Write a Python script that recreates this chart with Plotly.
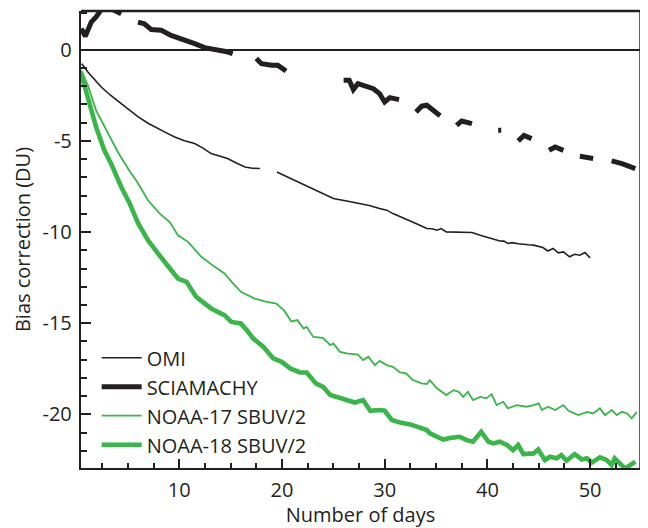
import plotly.graph_objects as go

# ---------------- data ----------------
omi_days = [0.5, 1.1, 2.4, 3.3, 4.35, 5.2, 6.0, 7.0, 7.9, 8.7, 9.55, 10.5, 11.5, 12.3, 13.1,
            14.0, 14.7, 15.5, 16.4, 17.1, 17.85, None,
            19.5, 21.0, 22.7, 24.0, 25.0, 26.3, 27.6, 28.5, 29.5, 30.2, 30.8, 31.5, 32.1,
            33.1, 34.1, 34.6, 35.1, 35.5, 36.0, 36.6, 37.3, 38.5, 39.3, 39.8, 40.3, 40.8,
            41.2, 41.6, 42.0, 42.4, 43.0, 43.5, 44.0, 44.5, 45.0, 45.4, 45.9, 46.4, 46.9,
            47.4, 48.0, 48.5, 49.0, 49.5, 50.0]
omi_vals = [-0.77, -1.23, -2.05, -2.5, -2.96, -3.35, -3.69, -4.05, -4.33, -4.55, -4.79, -5.0,
            -5.15, -5.4, -5.70, -5.85, -5.97, -6.2, -6.43, -6.5, -6.52, None,
            -6.71, -7.1, -7.55, -7.9, -8.16, -8.3, -8.44, -8.55, -8.71, -8.8, -8.99, -9.15,
            -9.32, -9.55, -9.81, -9.82, -9.90, -9.81, -9.99, -10.0, -10.03, -10.03, -10.18,
            -10.25, -10.36, -10.42, -10.49, -10.5, -10.63, -10.58, -10.64, -10.69, -10.7,
            -10.72, -10.8, -10.85, -11.04, -10.9, -11.14, -11.09, -11.36, -11.22, -11.27,
            -11.12, -11.42]

scia_days = [0.46, 0.85, 1.43, 1.9, 2.57, 3.06, 3.7, 4.35, None,
             5.98, 6.6, 7.27, 8.25, 9.2, 10.5, 11.5, 12.47, 13.8, 14.5, 15.2, None,
             17.5, 18.0, 19.0, 19.6, 20.4, None,
             26.0, 26.55, 26.95, 27.4, 28.9, 29.5, 30.0, 30.5, 31.4, None,
             33.05, 33.6, 34.1, 34.7, 35.4, None,
             37.0, 37.5, 38.5, None,
             41.05, 41.35, None,
             43.0, 43.56, 44.3, None,
             46.0, 46.6, 47.4, None,
             49.0, 50.3, None,
             52.1, 53.1, 54.4]
scia_vals = [1.15, 0.73, 1.51, 1.79, 2.33, 2.3, 2.15, 1.97, None,
             1.51, 1.42, 1.10, 1.06, 0.78, 0.55, 0.33, 0.11, 0.0, -0.1, -0.22, None,
             -0.49, -0.77, -0.86, -0.86, -1.17, None,
             -1.68, -1.68, -2.19, -1.86, -2.14, -2.41, -2.87, -2.63, -2.74, None,
             -3.42, -3.1, -3.05, -3.29, -3.62, None,
             -4.15, -3.91, -4.06, None,
             -4.42, -4.42, None,
             -5.01, -4.70, -4.88, None,
             -5.52, -5.34, -5.52, None,
             -5.85, -5.97, None,
             -6.1, -6.25, -6.52]

n17_days = [0.46, 1.1, 1.9, 3.06, 4.0, 5.2, 5.8, 6.95, 8.1, 9.07, 9.87, 10.85, 12.14, 13.45,
            14.4, 15.1, 16.0, 17.3, 18.3, 19.45, 20.2, 20.9, 21.5, 22.1, 22.4, 23.05, 24.0,
            24.7, 25.0, 25.65, 26.3, 27.4, 27.9, 28.4, 29.05, 29.5, 30.2, 30.8, 31.5, 32.1,
            32.7, 33.6, 34.1, 34.4, 35.1, 36.0, 36.7, 37.2, 37.65, 38.1, 38.6, 39.3, 39.9,
            40.4, 40.9, 41.55, 42.0, 42.85, 43.8, 44.5, 45.0, 45.3, 45.9, 46.6, 47.4, 47.9,
            48.85, 49.7, 50.3, 50.96, 51.45, 52.1, 52.6, 53.1, 53.6, 54.05, 54.55]
n17_vals = [-1.13, -1.96, -3.33, -4.6, -5.6, -6.7, -7.16, -8.26, -8.99, -9.45, -10.18, -10.54,
            -11.36, -11.91, -12.27, -12.73, -13.28, -13.64, -13.8, -13.92, -14.3, -14.9,
            -14.83, -15.29, -15.2, -15.75, -15.8, -16.2, -16.11, -16.57, -16.66, -16.72,
            -17.02, -16.84, -17.3, -17.07, -17.3, -17.39, -17.7, -17.75, -18.1, -18.3,
            -18.34, -18.12, -18.58, -18.94, -18.67, -18.76, -19.04, -18.76, -19.22, -19.04,
            -19.12, -18.89, -19.49, -19.31, -19.67, -19.49, -19.58, -19.49, -19.40, -19.76,
            -19.58, -19.76, -19.49, -19.8, -20.04, -19.86, -19.95, -19.67, -20.04, -19.76,
            -20.04, -19.86, -19.95, -20.22, -19.86]

n18_days = [0.4, 1.1, 1.9, 2.7, 3.4, 4.35, 5.17, 6.0, 6.95, 7.93, 8.9, 9.87, 10.7, 11.65,
            13.1, 14.4, 15.06, 16.0, 16.7, 17.2, 18.2, 19.15, 19.97, 20.8, 21.75, 22.4, 23.3,
            24.0, 24.7, 25.65, 26.3, 27.1, 27.9, 28.6, 29.5, 30.0, 30.7, 31.5, 32.5, 33.1,
            34.1, 34.4, 35.1, 35.7, 36.35, 37.3, 38.0, 38.6, 39.4, 40.1, 40.6, 41.2, 41.9,
            42.5, 43.0, 43.5, 44.5, 44.95, 45.6, 46.1, 46.75, 47.2, 47.7, 48.5, 49.2, 49.7,
            50.15, 50.96, 51.6, 52.1, 52.4, 52.9, 53.4, 53.9, 54.4]
n18_vals = [-1.23, -2.6, -4.24, -5.52, -6.3, -7.53, -8.44, -9.53, -10.45, -11.18, -11.82,
            -12.55, -12.73, -13.56, -14.19, -14.56, -14.93, -15.01, -15.47, -15.84, -16.3,
            -16.93, -17.12, -17.48, -17.7, -17.7, -18.3, -18.49, -18.94, -19.1, -19.22,
            -19.35, -19.22, -19.8, -19.76, -19.8, -20.31, -20.45, -20.55, -20.65, -20.86,
            -21.04, -21.25, -21.38, -21.3, -21.23, -21.41, -21.5, -20.95, -21.5, -21.59,
            -21.5, -21.68, -21.96, -21.68, -22.18, -22.14, -21.92, -22.5, -22.32, -22.41,
            -22.23, -22.54, -22.18, -22.47, -22.41, -22.65, -22.36, -22.5, -22.78, -22.41,
            -22.72, -22.96, -22.78, -22.6]

series_names = ["OMI", "SCIAMACHY", "NOAA-17 SBUV/2", "NOAA-18 SBUV/2"]

x_tick_vals = [10, 20, 30, 40, 50]
x_tick_text = ["10", "20", "30", "40", "50"]
y_tick_vals = [0, -5, -10, -15, -20]
y_tick_text = ["0", "-5", "-10", "-15", "-20"]

# ---------------- styling ----------------
INK = "#231f20"
GREEN = "#39b54a"
FONT = "Open Sans"
FS = 20

fig = go.Figure()
styles = [
    (omi_days, omi_vals, INK, 1.6),
    (scia_days, scia_vals, INK, 5.0),
    (n17_days, n17_vals, GREEN, 1.8),
    (n18_days, n18_vals, GREEN, 4.6),
]
for name, (xs, ys, col, w) in zip(series_names, styles):
    fig.add_trace(go.Scatter(
        x=xs, y=ys, mode="lines", name=name, connectgaps=False,
        line=dict(color=col, width=w), legendgroup=name,
    ))

# the page body has an 8px default margin, so the figure is 640x520
fig.update_layout(
    width=640, height=520,
    margin=dict(l=73, r=8, t=3, b=60),
    paper_bgcolor="white", plot_bgcolor="white",
    font=dict(family=FONT, size=FS, color=INK),
    showlegend=True,
    legend=dict(
        x=0.028, y=0.284, xanchor="left", yanchor="top",
        bgcolor="rgba(0,0,0,0)", borderwidth=0,
        font=dict(family=FONT, size=FS, color=INK),
        traceorder="normal", tracegroupgap=4, itemwidth=40,
    ),
)

fig.update_xaxes(
    range=[0.43, 54.86], showgrid=False, zeroline=False, automargin=False,
    showline=True, linecolor=INK, linewidth=2.2, mirror=False,
    ticks="inside", ticklen=9, tickwidth=1.8, tickcolor=INK,
    tickvals=x_tick_vals, ticktext=x_tick_text,
    minor=dict(dtick=2.5, tick0=0, ticks="inside", ticklen=5, tickwidth=1.5, tickcolor=INK, showgrid=False),
    title=dict(text="Number of days", standoff=2, font=dict(family=FONT, size=FS, color=INK)),
    tickfont=dict(family=FONT, size=FS, color=INK),
    ticklabelstandoff=3,
)
fig.update_yaxes(
    range=[-22.94, 2.12], showgrid=False, automargin=False,
    zeroline=True, zerolinecolor=INK, zerolinewidth=1.6,
    showline=True, linecolor=INK, linewidth=2.4, mirror=False,
    ticks="inside", ticklen=10, tickwidth=1.8, tickcolor=INK,
    tickvals=y_tick_vals, ticktext=y_tick_text,
    minor=dict(dtick=1, tick0=0, ticks="inside", ticklen=6, tickwidth=1.5, tickcolor=INK, showgrid=False),
    title=dict(text="Bias correction (DU)", standoff=6, font=dict(family=FONT, size=FS, color=INK)),
    tickfont=dict(family=FONT, size=FS, color=INK),
    ticklabelstandoff=3,
)
# frame: thick top edge, thin right edge
fig.add_shape(type="line", xref="paper", yref="paper", x0=0, x1=1, y0=1, y1=1,
              line=dict(color=INK, width=2.6))
fig.add_shape(type="line", xref="paper", yref="paper", x0=1, x1=1, y0=0, y1=1,
              line=dict(color=INK, width=1.4))

fig.write_html("out.html")
